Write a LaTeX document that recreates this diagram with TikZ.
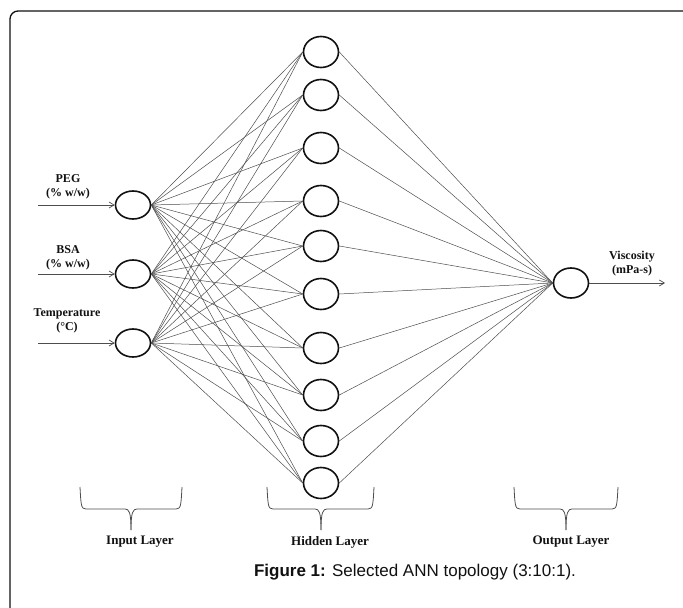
\documentclass[tikz,border=0pt]{standalone}
\usepackage{fontspec}
\setmainfont{Liberation Serif}
\newfontfamily\capfont{Liberation Sans}
\usetikzlibrary{arrows.meta,shapes.geometric}
\definecolor{ink}{HTML}{111111}
\definecolor{wiregray}{HTML}{4D4D4D}
\tikzset{
  every node/.style={text=ink},
  neuron/.style={ellipse,draw=ink,line width=1.6pt,minimum width=35pt,
    minimum height=30pt,inner sep=0pt},
  wire/.style={draw=wiregray,line width=0.5pt},
  io arrow/.style={-{Straight Barb[length=5pt,width=6pt]},draw=wiregray,line width=0.7pt},
  io label/.style={font=\fontsize{12}{14}\selectfont\bfseries,align=center,inner sep=0pt},
  layer label/.style={font=\fontsize{13}{15}\selectfont\bfseries,inner sep=0pt},
  brace line/.style={draw=wiregray,line width=0.8pt},
  frame line/.style={draw=ink,line width=1.3pt,rounded corners=8pt},
}
% curly brace under a layer: left end, tip, right end
\newcommand{\layerbrace}[3]{%
  \draw[brace line] (#1,487) .. controls (#1+1,505) and (#1+1,509) .. (#1+6,509)
    -- (#2-6,509) .. controls (#2-2,509) and (#2,512) .. (#2,530);
  \draw[brace line] (#3,487) .. controls (#3-1,505) and (#3-1,509) .. (#3-6,509)
    -- (#2+6,509) .. controls (#2+2,509) and (#2,512) .. (#2,530);
}

\begin{document}
\begin{tikzpicture}[x=1pt,y=-1pt]
  \useasboundingbox (0,0) rectangle (683,608);
  \draw[frame line] (10,620) -- (10,11) -- (695,11);

  % neurons
  \node[neuron,minimum height=28pt] (in1) at (133,205) {};
  \node[neuron,minimum height=28pt] (in2) at (133,274) {};
  \node[neuron,minimum height=28pt] (in3) at (133,343) {};
  \foreach \y [count=\i] in {52,95,148,201,246,294,348,395,441,483}
    \node[neuron,minimum height=31pt] (h\i) at (321,\y) {};
  \node[neuron] (out) at (571,283) {};

  % connections
  \foreach \i in {1,...,3}
    \foreach \j in {1,...,10}
      \draw[wire] (in\i.east) -- (h\j.west);
  \foreach \j in {1,...,10}
    \draw[wire] (h\j.east) -- (out.west);

  % inputs and output
  \coordinate (src1) at (38,205);
  \coordinate (src2) at (38,274);
  \coordinate (src3) at (38,343);
  \coordinate (sink) at (665,283);
  \foreach \i in {1,...,3}
    \draw[io arrow] (src\i) -- (in\i.west);
  \draw[io arrow] (out.east) -- (sink);

  \node[io label] (peg) at (68,187) {PEG\\(\% w/w)};
  \node[io label] (bsa) at (68,258) {BSA\\(\% w/w)};
  \node[io label] (temp) at (67,321) {Temperature\\(°C)};
  \node[io label] (visc) at (632,264) {Viscosity\\(mPa-s)};

  % layer braces
  \layerbrace{80}{131}{182}
  \layerbrace{267}{321}{374}
  \layerbrace{514}{566}{618}
  \node[layer label] (inlayer) at (140,542) {Input Layer};
  \node[layer label] (hidlayer) at (330,542) {Hidden Layer};
  \node[layer label] (outlayer) at (571,542) {Output Layer};

  \node (caption) at (415,572)
    {\capfont\fontsize{17}{20}\selectfont\textbf{Figure 1:} Selected ANN topology (3:10:1).};
\end{tikzpicture}
\end{document}
